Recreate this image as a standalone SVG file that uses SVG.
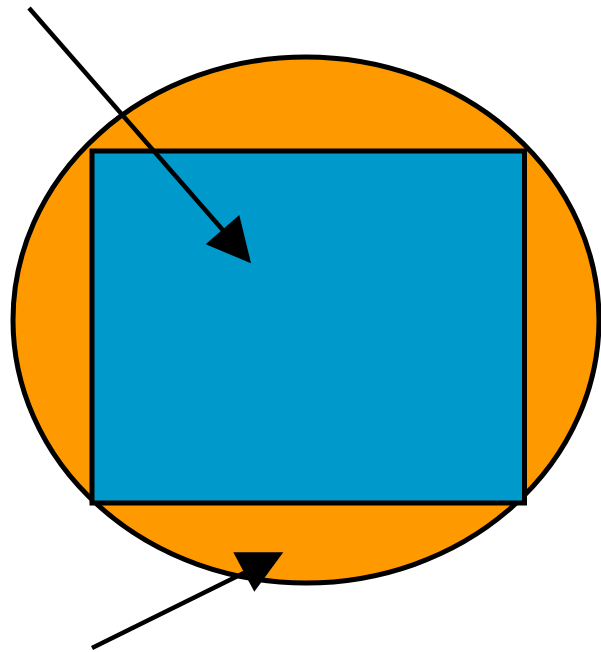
<svg xmlns="http://www.w3.org/2000/svg" width="601" height="652" viewBox="0 0 601 652">
<style>
.s{stroke:#000;stroke-width:5}
.l{stroke:#000;stroke-width:4.5;fill:none}
.h{fill:#000;stroke:none}
</style>
<g id="ellipse"><ellipse cx="306" cy="320" rx="293" ry="263" fill="#FF9900" class="s"/></g>
<g id="rect"><rect x="92" y="151" width="432.5" height="352" fill="#0099CC" class="s"/></g>
<g id="connectors">
<line x1="29" y1="8" x2="228" y2="236" class="l"/>
<polygon points="205.7,244.3 239.3,215 251,263.3" class="h"/>
<line x1="92" y1="648" x2="262" y2="564" class="l"/>
<polygon points="233.3,552.3 283.3,552.3 254.3,591.7" class="h"/>
</g>
</svg>
